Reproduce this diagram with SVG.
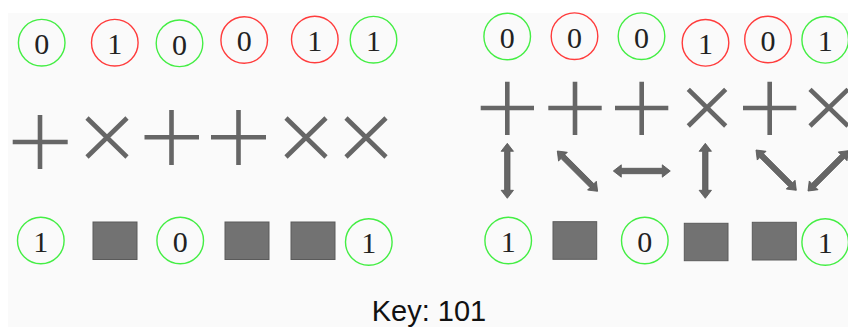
<svg xmlns="http://www.w3.org/2000/svg" width="848" height="327" viewBox="0 0 848 327">
<style>
.bg{fill:#fafafa}
.g{fill:none;stroke:#44ee44;stroke-width:1.4}
.r{fill:none;stroke:#ff3c3c;stroke-width:1.4}
.d{font-family:"Liberation Serif","DejaVu Serif",serif;font-size:30px;fill:#222;text-anchor:middle}
.op{stroke:#666;stroke-width:4.6;fill:none}
.sq{fill:#727272;stroke:#5a5a5a;stroke-width:1}
.ar{fill:#666;stroke:#555;stroke-width:0.8}
.key{font-family:"Liberation Sans",Arial,sans-serif;font-size:29px;fill:#111;text-anchor:middle}
</style>
<defs>
<path id="a55" d="M0,0 L8,-6.2 L8,-2.7 L47,-2.7 L47,-6.2 L55,0 L47,6.2 L47,2.7 L8,2.7 L8,6.2 Z"/>
<path id="a57" d="M0,0 L8,-6.2 L8,-2.7 L49,-2.7 L49,-6.2 L57,0 L49,6.2 L49,2.7 L8,2.7 L8,6.2 Z"/>
</defs>
<rect class="bg" x="8" y="13" width="840" height="314"/>

<g id="left-top">
<g id="lt1"><circle class="g" cx="41.7" cy="42.7" r="23.3"/><text class="d" x="41.7" y="54">0</text></g>
<g id="lt2"><circle class="r" cx="114.8" cy="42.7" r="23.3"/><text class="d" x="114.8" y="54">1</text></g>
<g id="lt3"><circle class="g" cx="179.5" cy="43.3" r="23.3"/><text class="d" x="179.5" y="54.6">0</text></g>
<g id="lt4"><circle class="r" cx="244.2" cy="40" r="23.3"/><text class="d" x="244.2" y="51.3">0</text></g>
<g id="lt5"><circle class="r" cx="314.8" cy="39.5" r="23.3"/><text class="d" x="314.8" y="50.8">1</text></g>
<g id="lt6"><circle class="g" cx="373.5" cy="39.7" r="23.3"/><text class="d" x="373.5" y="51">1</text></g>
</g>

<g id="left-ops">
<g id="lo1"><path class="op" d="M12.7,142 H67.7 M40,115 V169"/></g>
<g id="lo2"><path class="op" d="M87,118 L127,157 M127,118 L87,157"/></g>
<g id="lo3"><path class="op" d="M144.5,137.3 H199 M171.5,110 V165"/></g>
<g id="lo4"><path class="op" d="M211,137.3 H266 M238.5,110 V165"/></g>
<g id="lo5"><path class="op" d="M286,118 L326,157 M326,118 L286,157"/></g>
<g id="lo6"><path class="op" d="M346,118 L386,157 M386,118 L346,157"/></g>
</g>

<g id="left-bottom">
<g id="lb1"><circle class="g" cx="40.8" cy="240.5" r="23.3"/><text class="d" x="40.8" y="251.8">1</text></g>
<rect id="lb2" class="sq" x="93" y="222" width="44" height="37.5"/>
<g id="lb3"><circle class="g" cx="180.2" cy="240.5" r="23.3"/><text class="d" x="180.2" y="251.8">0</text></g>
<rect id="lb4" class="sq" x="225" y="222" width="44" height="37.5"/>
<rect id="lb5" class="sq" x="291" y="222" width="44" height="37.5"/>
<g id="lb6"><circle class="g" cx="368.8" cy="242" r="23.3"/><text class="d" x="368.8" y="253.3">1</text></g>
</g>

<g id="right-top">
<g id="rt1"><circle class="g" cx="507.2" cy="36.5" r="23.3"/><text class="d" x="507.2" y="47.8">0</text></g>
<g id="rt2"><circle class="r" cx="574.5" cy="36.2" r="23.3"/><text class="d" x="574.5" y="47.5">0</text></g>
<g id="rt3"><circle class="g" cx="641.5" cy="36.2" r="23.3"/><text class="d" x="641.5" y="47.5">0</text></g>
<g id="rt4"><circle class="r" cx="705.5" cy="42.8" r="23.3"/><text class="d" x="705.5" y="54.1">1</text></g>
<g id="rt5"><circle class="r" cx="768" cy="39.5" r="23.3"/><text class="d" x="768" y="50.8">0</text></g>
<g id="rt6"><circle class="g" cx="825.2" cy="39.8" r="23.3"/><text class="d" x="825.2" y="51.1">1</text></g>
</g>

<g id="right-ops">
<g id="ro1"><path class="op" d="M480.7,108 H534 M507.3,81.7 V135"/></g>
<g id="ro2"><path class="op" d="M548.3,108 H601.7 M575,81.7 V135"/></g>
<g id="ro3"><path class="op" d="M615,108 H668.3 M641.7,81.7 V135"/></g>
<g id="ro4"><path class="op" d="M688.3,89.3 L725.7,126 M725.7,89.3 L688.3,126"/></g>
<g id="ro5"><path class="op" d="M743,108 H796.3 M769.7,81.7 V135"/></g>
<g id="ro6"><path class="op" d="M810,89.3 L848,126 M848,89.3 L810,126"/></g>
</g>

<g id="connectors">
<use href="#a55" class="ar" transform="translate(507.3,143.3) rotate(90)"/>
<use href="#a57" class="ar" transform="translate(557.3,151) rotate(45)"/>
<use href="#a57" class="ar" transform="translate(613.3,171)"/>
<use href="#a55" class="ar" transform="translate(705.3,143.3) rotate(90)"/>
<use href="#a57" class="ar" transform="translate(756,150) rotate(45)"/>
<use href="#a57" class="ar" transform="translate(808,191) rotate(-45)"/>
</g>

<g id="right-bottom">
<g id="rb1"><circle class="g" cx="508.2" cy="240.5" r="23.3"/><text class="d" x="508.2" y="251.8">1</text></g>
<rect id="rb2" class="sq" x="553" y="221.7" width="43.7" height="37.6"/>
<g id="rb3"><circle class="g" cx="644.8" cy="240.5" r="23.3"/><text class="d" x="644.8" y="251.8">0</text></g>
<rect id="rb4" class="sq" x="684.3" y="223.3" width="43.7" height="37.4"/>
<rect id="rb5" class="sq" x="752.3" y="222.3" width="44" height="37.7"/>
<g id="rb6"><circle class="g" cx="825.2" cy="242" r="23.3"/><text class="d" x="825.2" y="253.3">1</text></g>
</g>

<text id="key" class="key" x="429" y="320.5">Key: 101</text>
</svg>
